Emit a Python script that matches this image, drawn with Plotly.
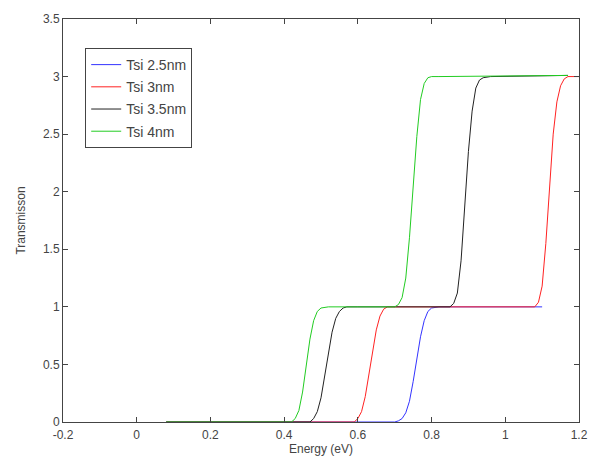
import plotly.graph_objects as go

# ---- data ----
blue_x = [0.08, 0.70, 0.71, 0.72, 0.73, 0.74, 0.75, 0.76, 0.77, 0.78, 0.79, 0.80, 0.82, 1.10]
blue_y = [0.0, 0.0, 0.01, 0.03, 0.08, 0.18, 0.35, 0.55, 0.74, 0.88, 0.96, 0.99, 1.0, 1.0]

red_x = [0.08, 0.59, 0.60, 0.61, 0.62, 0.63, 0.64, 0.65, 0.66, 0.67, 0.68, 0.70,
         1.08, 1.09, 1.10, 1.11, 1.12, 1.13, 1.14, 1.15, 1.16, 1.17, 1.20]
red_y = [0.0, 0.0, 0.03, 0.09, 0.22, 0.42, 0.63, 0.80, 0.92, 0.98, 1.0, 1.0,
         1.0, 1.04, 1.18, 1.55, 2.05, 2.5, 2.78, 2.92, 2.98, 3.0, 3.0]

black_x = [0.08, 0.47, 0.48, 0.49, 0.50, 0.51, 0.52, 0.53, 0.54, 0.55, 0.56, 0.57, 0.60,
           0.85, 0.86, 0.87, 0.88, 0.89, 0.90, 0.91, 0.92, 0.93, 0.94, 0.96, 1.17]
black_y = [0.0, 0.0, 0.03, 0.09, 0.21, 0.40, 0.60, 0.78, 0.90, 0.96, 0.99, 1.0, 1.0,
           1.0, 1.03, 1.12, 1.4, 1.85, 2.35, 2.7, 2.9, 2.97, 2.99, 3.0, 3.01]

green_x = [0.08, 0.42, 0.43, 0.44, 0.45, 0.46, 0.47, 0.48, 0.49, 0.50, 0.52,
           0.70, 0.71, 0.72, 0.73, 0.74, 0.75, 0.76, 0.77, 0.78, 0.79, 0.80, 0.82, 1.17]
green_y = [0.0, 0.0, 0.03, 0.10, 0.26, 0.50, 0.72, 0.88, 0.96, 0.99, 1.0,
           1.0, 1.02, 1.08, 1.25, 1.6, 2.05, 2.48, 2.8, 2.94, 2.99, 3.0, 3.0, 3.01]

series_names = ["Tsi 2.5nm", "Tsi 3nm", "Tsi 3.5nm", "Tsi 4nm"]
series_colors = ["#3333ff", "#ff2222", "#222222", "#22cc22"]

x_tickvals = [-0.2, 0, 0.2, 0.4, 0.6, 0.8, 1.0, 1.2]
x_ticktext = ["-0.2", "0", "0.2", "0.4", "0.6", "0.8", "1", "1.2"]
y_tickvals = [0, 0.5, 1, 1.5, 2, 2.5, 3, 3.5]
y_ticktext = ["0", "0.5", "1", "1.5", "2", "2.5", "3", "3.5"]

FONT = "Liberation Sans, Arial, sans-serif"

fig = go.Figure()
for xs, ys, name, col in zip([blue_x, red_x, black_x, green_x],
                             [blue_y, red_y, black_y, green_y],
                             series_names, series_colors):
    fig.add_trace(go.Scatter(x=xs, y=ys, mode="lines", name=name, legendgroup=name,
                             line=dict(color=col, width=1)))

axis_common = dict(
    showgrid=False, zeroline=False, showline=True, linecolor="#444", linewidth=1,
    mirror="allticks", ticks="inside", ticklen=5, tickcolor="#444",
    tickfont=dict(family=FONT, size=12, color="#444"),
)

fig.update_layout(
    width=600, height=468,
    margin=dict(l=63, r=20, t=16, b=46),
    paper_bgcolor="white", plot_bgcolor="white",
    font=dict(family=FONT, size=12, color="#444"),
    xaxis=dict(range=[-0.2, 1.2], tickvals=x_tickvals, ticktext=x_ticktext,
               ticklabelstandoff=2,
               title=dict(text="Energy (eV)", standoff=2, font=dict(size=12)), **axis_common),
    yaxis=dict(range=[0, 3.5], tickvals=y_tickvals, ticktext=y_ticktext,
               title=dict(text="Transmisson", standoff=14, font=dict(size=12)), **axis_common),
    legend=dict(x=0.043, y=0.928, xanchor="left", yanchor="top",
                bordercolor="#444", borderwidth=1, bgcolor="white",
                font=dict(family=FONT, size=14, color="#444"),
                tracegroupgap=1),
    showlegend=True,
)

fig.write_html("out.html")
